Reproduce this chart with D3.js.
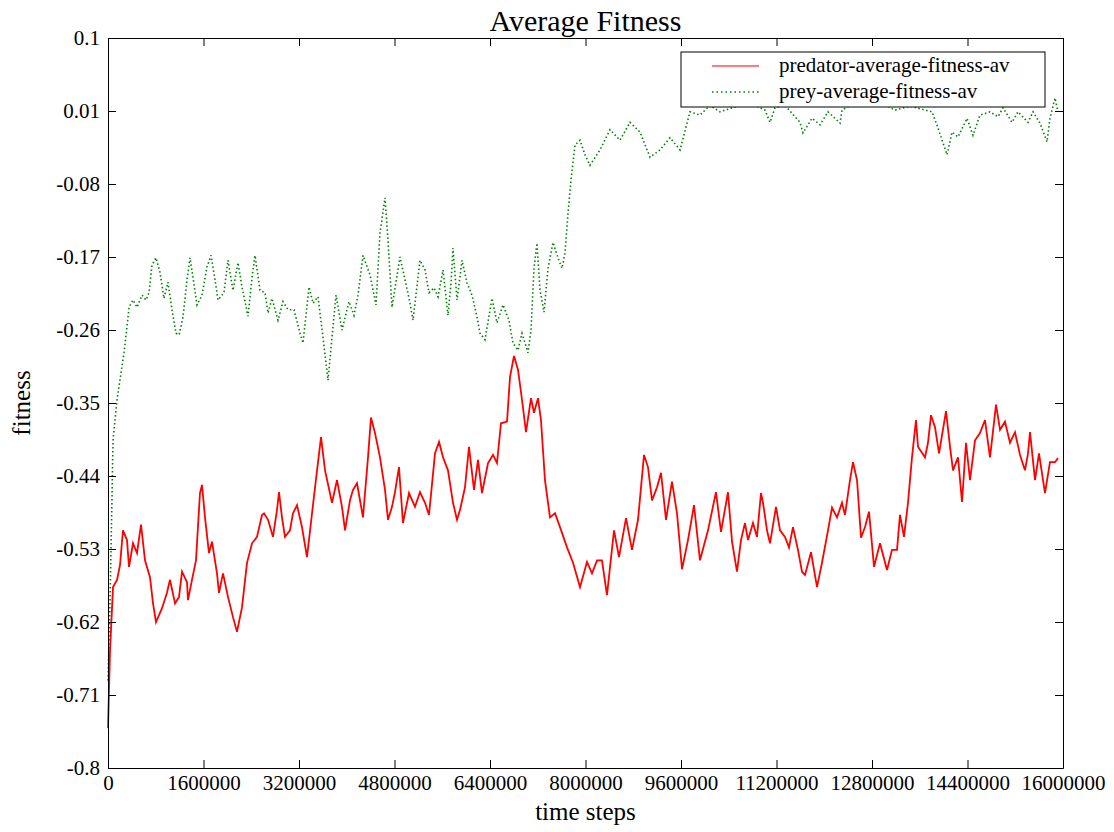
<html>
<head><meta charset="utf-8"></head>
<script src='https://d3js.org/d3.v7.min.js'></script>
<style>
  body { margin: 0; background: #fff; }
  text { font-family: "Liberation Serif", "Times New Roman", serif; fill: #000; }
</style>
<body onload='init()'>
<svg width=1114 height=832></svg>
<script>
// time steps (thousands) and fitness values
var predT = [0,34,84,151,201,251,318,352,419,486,553,620,704,754,804,905,988,1039,1123,1190,1240,1324,1340,1407,1474,1541,1575,1625,1692,1742,1826,1860,1927,2010,2094,2161,2245,2329,2413,2496,2580,2614,2681,2764,2831,2865,2915,2965,3049,3099,3167,3250,3334,3418,3502,3569,3636,3753,3837,3920,3971,4054,4105,4172,4272,4356,4406,4473,4557,4641,4691,4758,4808,4875,4942,5043,5143,5227,5311,5378,5479,5546,5613,5696,5780,5847,5897,5981,6048,6132,6199,6266,6367,6450,6517,6584,6685,6735,6802,6869,6936,7003,7087,7137,7204,7254,7321,7405,7489,7573,7690,7791,7908,8025,8109,8193,8276,8360,8411,8478,8561,8679,8779,8880,8980,9047,9114,9198,9265,9349,9449,9533,9617,9717,9818,9918,10052,10186,10270,10387,10455,10538,10605,10672,10723,10806,10873,10940,10974,11041,11091,11192,11259,11342,11410,11476,11560,11627,11678,11778,11879,11962,12063,12130,12214,12297,12348,12431,12482,12549,12616,12683,12750,12834,12934,13051,13135,13219,13269,13336,13403,13470,13537,13571,13688,13738,13789,13856,13923,14040,14107,14157,14241,14308,14375,14442,14526,14609,14693,14777,14878,14945,15028,15112,15196,15280,15363,15414,15447,15531,15598,15698,15782,15866,15916];
var predV = [-0.751,-0.655,-0.577,-0.568,-0.550,-0.507,-0.519,-0.552,-0.523,-0.535,-0.500,-0.544,-0.565,-0.597,-0.620,-0.603,-0.584,-0.568,-0.597,-0.589,-0.558,-0.571,-0.593,-0.568,-0.544,-0.461,-0.451,-0.491,-0.535,-0.521,-0.560,-0.584,-0.560,-0.589,-0.614,-0.632,-0.602,-0.547,-0.523,-0.515,-0.488,-0.486,-0.494,-0.515,-0.482,-0.460,-0.491,-0.515,-0.507,-0.486,-0.476,-0.503,-0.540,-0.486,-0.433,-0.392,-0.433,-0.473,-0.445,-0.478,-0.507,-0.470,-0.457,-0.449,-0.491,-0.417,-0.368,-0.387,-0.417,-0.457,-0.494,-0.478,-0.460,-0.429,-0.498,-0.461,-0.478,-0.460,-0.473,-0.488,-0.412,-0.398,-0.417,-0.433,-0.473,-0.494,-0.482,-0.454,-0.404,-0.457,-0.420,-0.461,-0.424,-0.414,-0.424,-0.375,-0.373,-0.318,-0.292,-0.309,-0.346,-0.386,-0.344,-0.362,-0.344,-0.371,-0.445,-0.491,-0.486,-0.503,-0.528,-0.547,-0.577,-0.546,-0.560,-0.544,-0.544,-0.587,-0.552,-0.507,-0.540,-0.492,-0.531,-0.494,-0.414,-0.429,-0.470,-0.454,-0.436,-0.494,-0.447,-0.486,-0.555,-0.519,-0.476,-0.544,-0.507,-0.460,-0.509,-0.460,-0.521,-0.558,-0.519,-0.498,-0.519,-0.498,-0.515,-0.461,-0.473,-0.507,-0.523,-0.478,-0.507,-0.515,-0.528,-0.503,-0.531,-0.558,-0.562,-0.534,-0.577,-0.547,-0.507,-0.479,-0.491,-0.473,-0.488,-0.445,-0.423,-0.445,-0.516,-0.503,-0.484,-0.552,-0.523,-0.556,-0.531,-0.531,-0.488,-0.515,-0.473,-0.417,-0.371,-0.404,-0.417,-0.399,-0.365,-0.380,-0.412,-0.360,-0.404,-0.433,-0.417,-0.472,-0.399,-0.445,-0.396,-0.387,-0.371,-0.417,-0.352,-0.383,-0.373,-0.399,-0.386,-0.414,-0.433,-0.412,-0.386,-0.445,-0.412,-0.461,-0.423,-0.423,-0.418];

var preyT = [0,34,67,84,151,218,268,318,352,419,486,570,637,687,737,804,871,938,1005,1072,1139,1190,1257,1324,1374,1424,1491,1575,1659,1726,1793,1843,1943,2010,2094,2178,2245,2346,2413,2463,2547,2630,2681,2748,2848,2932,3016,3116,3217,3267,3368,3435,3518,3602,3686,3753,3820,3920,4038,4121,4189,4272,4390,4490,4557,4641,4691,4758,4892,4976,5060,5110,5227,5311,5378,5462,5529,5613,5696,5747,5780,5847,5931,6015,6098,6182,6232,6316,6434,6517,6618,6718,6785,6869,6936,7037,7087,7137,7187,7238,7305,7372,7456,7539,7606,7657,7707,7757,7824,7908,7992,8075,8243,8411,8578,8746,8913,9081,9248,9416,9584,9751,9918,10086,10253,10505,10756,11007,11091,11175,11342,11594,11644,11795,11929,12063,12264,12297,12599,12934,13186,13437,13806,13906,14057,14141,14241,14392,14492,14609,14777,14911,14995,15146,15246,15414,15498,15615,15732,15782,15866,15916];
var preyV = [-0.692,-0.593,-0.466,-0.396,-0.346,-0.313,-0.288,-0.256,-0.232,-0.223,-0.232,-0.217,-0.223,-0.214,-0.180,-0.171,-0.189,-0.221,-0.201,-0.235,-0.264,-0.266,-0.244,-0.198,-0.171,-0.195,-0.229,-0.217,-0.182,-0.168,-0.198,-0.223,-0.214,-0.174,-0.211,-0.177,-0.207,-0.243,-0.195,-0.168,-0.211,-0.214,-0.239,-0.221,-0.248,-0.225,-0.235,-0.235,-0.264,-0.276,-0.207,-0.227,-0.219,-0.269,-0.322,-0.269,-0.217,-0.260,-0.225,-0.242,-0.217,-0.168,-0.192,-0.229,-0.140,-0.097,-0.149,-0.232,-0.170,-0.198,-0.227,-0.248,-0.174,-0.186,-0.214,-0.208,-0.219,-0.186,-0.242,-0.202,-0.159,-0.223,-0.174,-0.202,-0.217,-0.244,-0.264,-0.272,-0.221,-0.251,-0.229,-0.248,-0.276,-0.285,-0.264,-0.288,-0.260,-0.184,-0.153,-0.211,-0.238,-0.184,-0.152,-0.171,-0.184,-0.165,-0.116,-0.075,-0.032,-0.026,-0.044,-0.057,-0.038,-0.013,-0.026,-0.004,-0.016,-0.047,-0.038,-0.023,-0.038,0.009,0.005,0.017,0.009,0.015,0.020,0.011,-0.004,0.014,0.017,-0.004,-0.017,0.001,-0.007,0.009,-0.005,0.011,0.024,0.021,0.011,0.016,0.009,-0.011,-0.044,-0.016,-0.022,0.001,-0.020,0.005,0.009,0.003,0.014,-0.004,0.009,-0.004,0.009,-0.005,-0.028,0.001,0.026,0.009];

var xTicks = [0,1600000,3200000,4800000,6400000,8000000,9600000,11200000,12800000,14400000,16000000];
var yTicks = [0.1,0.01,-0.08,-0.17,-0.26,-0.35,-0.44,-0.53,-0.62,-0.71,-0.8];
var seriesNames = ["predator-average-fitness-av","prey-average-fitness-av"];

function init() {
  var margin = {left: 108, top: 38, right: 51, bottom: 64},
      width = 1114 - margin.left - margin.right,
      height = 832 - margin.top - margin.bottom;

  var svg = d3.select("svg");
  var g = svg.append("g").attr("transform", "translate(" + margin.left + "," + margin.top + ")");

  var x = d3.scaleLinear().domain([0, 16000000]).range([0, width]);
  var y = d3.scaleLinear().domain([-0.8, 0.1]).range([height, 0]);

  var pred = predT.map(function(t, i){ return [t * 1000, predV[i]]; });
  var prey = preyT.map(function(t, i){ return [t * 1000, preyV[i]]; });

  var line = d3.line().x(function(d){ return x(d[0]); }).y(function(d){ return y(d[1]); });

  g.append("path").datum(prey).attr("d", line)
    .attr("fill", "none").attr("stroke", "#008000").attr("stroke-width", 1.6)
    .attr("stroke-dasharray", "1.5,2.5");
  g.append("path").datum(pred).attr("d", line)
    .attr("fill", "none").attr("stroke", "#ff0000").attr("stroke-width", 1.8);

  // frame with inward ticks on all sides
  var fmtY = function(d){ return String(+d.toFixed(2)); };
  var tick = 8;
  g.append("g").attr("transform", "translate(0," + height + ")")
    .call(d3.axisBottom(x).tickValues(xTicks).tickFormat(function(d){ return String(d); }).tickSizeInner(-tick).tickSizeOuter(0).tickPadding(7));
  g.append("g")
    .call(d3.axisLeft(y).tickValues(yTicks).tickFormat(fmtY).tickSizeInner(-tick).tickSizeOuter(0).tickPadding(8));
  g.append("g")
    .call(d3.axisTop(x).tickValues(xTicks).tickFormat("").tickSizeInner(-tick).tickSizeOuter(0));
  g.append("g").attr("transform", "translate(" + width + ",0)")
    .call(d3.axisRight(y).tickValues(yTicks).tickFormat("").tickSizeInner(-tick).tickSizeOuter(0));
  g.selectAll(".domain, .tick line").attr("stroke", "#000");
  g.selectAll(".tick text").style("font-size", "21px").attr("fill", "#000");

  // titles
  svg.append("text").attr("x", margin.left + width / 2).attr("y", 31)
    .attr("text-anchor", "middle").style("font-size", "30px").text("Average Fitness");
  svg.append("text").attr("x", margin.left + width / 2).attr("y", 820)
    .attr("text-anchor", "middle").style("font-size", "25px").text("time steps");
  svg.append("text").attr("transform", "translate(30," + (margin.top + height / 2) + ") rotate(-90)")
    .attr("text-anchor", "middle").style("font-size", "25px").text("fitness");

  // legend
  var lg = svg.append("g").attr("transform", "translate(681,52)");
  lg.append("rect").attr("width", 364).attr("height", 55)
    .attr("fill", "#fff").attr("stroke", "#000").attr("stroke-width", 1);
  var styles = [{c: "#ff5050", d: null, w: 1.5}, {c: "#008000", d: "1.5,3", w: 1.3}];
  seriesNames.forEach(function(n, i){
    var yy = 14 + i * 26;
    lg.append("line").attr("x1", 31).attr("x2", 78).attr("y1", yy).attr("y2", yy)
      .attr("stroke", styles[i].c).attr("stroke-width", styles[i].w)
      .attr("stroke-dasharray", styles[i].d);
    lg.append("text").attr("x", 98).attr("y", yy + 6).style("font-size", "21px").text(n);
  });
}
</script>
</body>
</html>
